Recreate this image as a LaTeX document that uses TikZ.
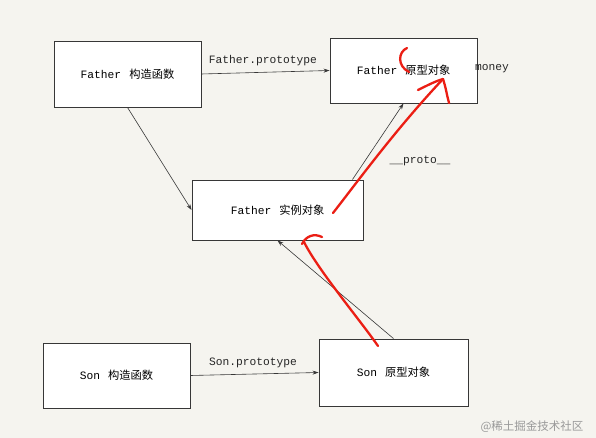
\documentclass[tikz,border=0pt]{standalone}
\usepackage{fontspec}
\newfontfamily\mono{Liberation Mono}
\newfontfamily\cjk{Noto Sans CJK SC}
\usetikzlibrary{arrows.meta}
\definecolor{bg}{RGB}{245,244,239}
\definecolor{ln}{RGB}{55,55,55}
\definecolor{hand}{RGB}{235,30,20}
\tikzset{
  box/.style={draw=ln, line width=0.9pt, fill=white, minimum width=#1, inner sep=0pt, font=\fontsize{11.25}{13}\selectfont},
  arr/.style={draw=ln, line width=0.6pt, -{Stealth[length=6pt,width=4pt]}},
  lbl/.style={font=\mono\fontsize{11.25}{13}\selectfont, text=black!85, inner sep=0pt},
  redpen/.style={draw=hand, line width=2.3pt, line cap=round, line join=round},
}
\newcommand{\gap}{\hspace{8pt}}
\begin{document}
\begin{tikzpicture}[x=1pt,y=-1pt]
\fill[bg] (0,0) rectangle (596,438);
\useasboundingbox (0,0) rectangle (596,438);

\node[box=147pt, minimum height=66pt] (fc) at (127.5,74) {{\mono Father}\gap{\cjk 构造函数}};
\node[box=147pt, minimum height=65pt] (fp) at (403.5,70.5) {{\mono Father}\gap{\cjk 原型对象}};
\node[box=171pt, minimum height=60pt] (fi) at (277.5,210) {{\mono Father}\gap{\cjk 实例对象}};
\node[box=147pt, minimum height=65pt] (sc) at (116.5,375.5) {{\mono Son}\gap{\cjk 构造函数}};
\node[box=149pt, minimum height=67pt] (sp) at (393.5,372.5) {{\mono Son}\gap{\cjk 原型对象}};

\draw[arr] (fc.east) -- (fp.west);
\draw[arr] (fc.south) -- (fi.west);
\draw[arr] ([xshift=-11pt]fi.north east) -- (fp.south);
\draw[arr] (sp.north) -- (fi.south);
\draw[arr] (sc.east) -- (sp.west);

\node[lbl] (l1) at (263,61) {Father.prototype};
\node[lbl] (l2) at (253,363) {Son.prototype};
\node[lbl] (l3) at (420,161) {\_\_proto\_\_};
\node[lbl] (l4) at (492,69) {money};

% hand-drawn red annotations
\draw[redpen] (407,48) .. controls (398,52) and (397,66) .. (409,72);
\draw[redpen] (333,213) .. controls (355,185) and (395,130) .. (443,79);
\draw[redpen] (418,90) .. controls (428,85) and (436,81) .. (443,79);
\draw[redpen] (443,79) .. controls (446,88) and (447,96) .. (449,103);
\draw[redpen] (378,346) .. controls (360,320) and (318,270) .. (304,242);
\draw[redpen] (302,244) .. controls (306,236) and (314,233) .. (322,237);

\node[font=\cjk\fontsize{11.5}{13}\selectfont, text=black!40, inner sep=0pt] (wm) at (532,427) {@稀土掘金技术社区};
\end{tikzpicture}
\end{document}
